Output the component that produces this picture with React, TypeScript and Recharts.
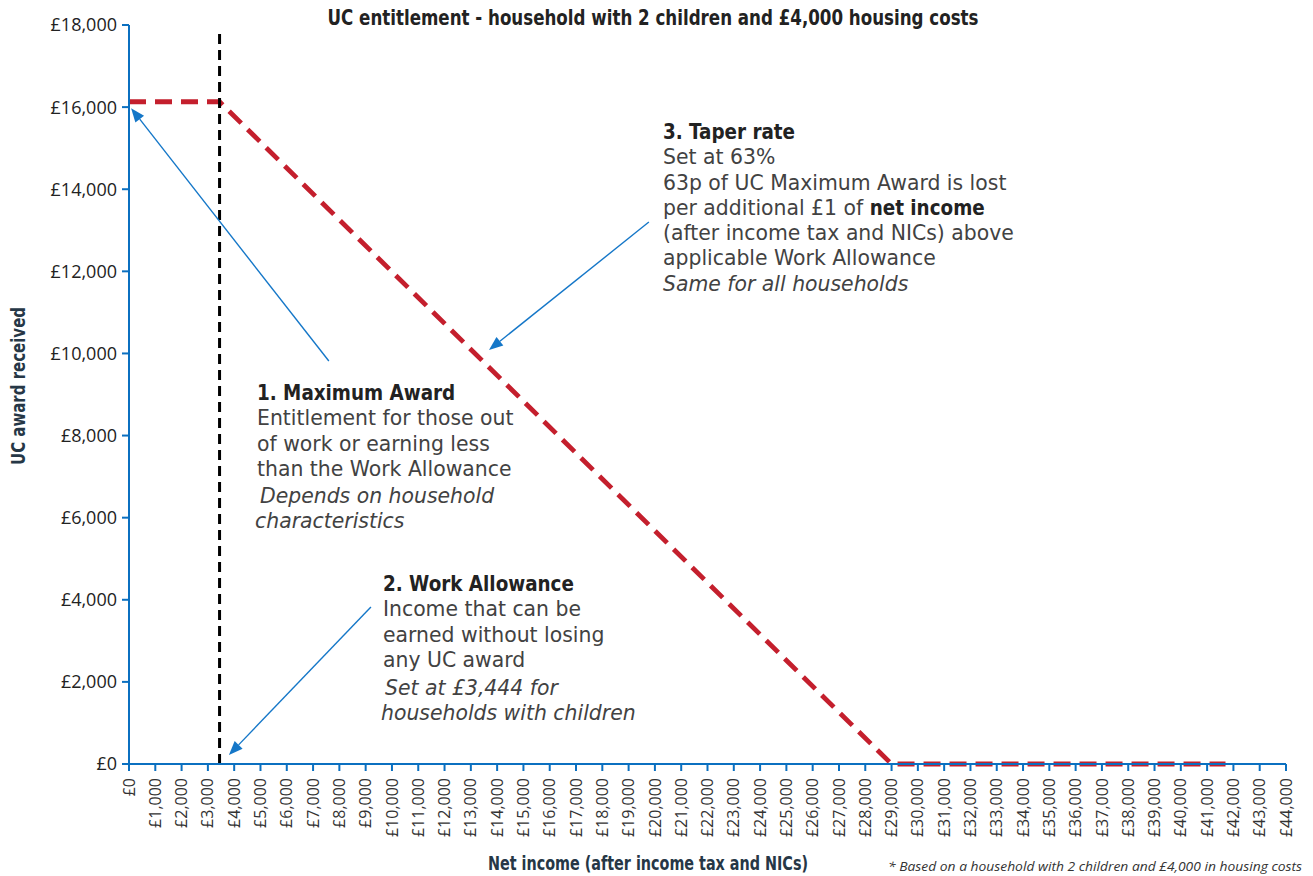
import React from "react";
import { LineChart, Line, XAxis, YAxis, ReferenceLine } from "recharts";

// Net income (£) at each kink of the entitlement line, and the UC award there
const INCOME = [0, 3444, 29000, 41700];
const AWARD = [16130, 16130, 0, 0];

const WORK_ALLOWANCE = 3444;
const WA_LINE_TOP = 17850;

const X_TICKS = Array.from({ length: 45 }, (_, i) => i * 1000);
const Y_TICKS = [0, 2000, 4000, 6000, 8000, 10000, 12000, 14000, 16000, 18000];

// arrows pointing at the chart: [fromX, fromY, toX, toY] in data units
const ARROWS = [
  [7600, 9815, 80, 15975],
  [19770, 13200, 13690, 10085],
  [9200, 3825, 3800, 220],
];

const data = INCOME.map((income, i) => ({ income, award: AWARD[i] }));

const AXIS_BLUE = "#0b70c0";
const ARROW_BLUE = "#1577c8";
const RED = "#c41f2d";
const TEXT = "#333333";
const NAVY = "#263746";
const CONDENSED = "'Liberation Sans Narrow', 'DejaVu Sans Condensed', 'Roboto', sans-serif";

const gbp = (v: number) => `£${v.toLocaleString("en-GB")}`;

const XTick = (props: any) => {
  const { x, payload } = props;
  const y = 778;
  return (
    <text
      x={x}
      y={y}
      transform={`rotate(-90 ${x} ${y})`}
      textAnchor="end"
      dy="0.35em"
      fontSize={16}
      fill={TEXT}
    >
      {gbp(payload.value)}
    </text>
  );
};

const Arrow = (props: any) => {
  const { x1, y1, x2, y2 } = props;
  const len = Math.hypot(x2 - x1, y2 - y1);
  const ux = (x2 - x1) / len;
  const uy = (y2 - y1) / len;
  const head = 14;
  const half = 5.5;
  const bx = x2 - ux * head;
  const by = y2 - uy * head;
  const pts = `${x2},${y2} ${bx - uy * half},${by + ux * half} ${bx + uy * half},${by - ux * half}`;
  return (
    <g>
      <line x1={x1} y1={y1} x2={bx} y2={by} stroke={ARROW_BLUE} strokeWidth={1.4} />
      <polygon points={pts} fill={ARROW_BLUE} />
    </g>
  );
};

const note: React.CSSProperties = {
  position: "absolute",
  fontFamily: "'DejaVu Sans', sans-serif",
  fontSize: 20.4,
  lineHeight: "25.3px",
  color: "#424242",
  whiteSpace: "nowrap",
};
const head: React.CSSProperties = {
  fontFamily: "'DejaVu Sans Condensed', 'DejaVu Sans', sans-serif",
  fontWeight: 700,
  color: "#222",
};
const ital: React.CSSProperties = { fontStyle: "italic" };

export default function App() {
  return (
    <div
      style={{
        position: "absolute",
        left: 0,
        top: 0,
        width: 1313,
        height: 876,
        fontFamily: "'Open Sans', sans-serif",
        background: "#fff",
        overflow: "hidden",
      }}
    >
      <LineChart width={1313} height={876} data={data} margin={{ top: 25, right: 27, bottom: 0, left: 0 }}>
        <XAxis
          type="number"
          dataKey="income"
          domain={[0, 44000]}
          ticks={X_TICKS}
          interval={0}
          height={112}
          axisLine={{ stroke: AXIS_BLUE, strokeWidth: 2 }}
          tickLine={{ stroke: AXIS_BLUE, strokeWidth: 2 }}
          tickSize={7}
          tick={<XTick />}
        />
        <YAxis
          type="number"
          domain={[0, 18000]}
          ticks={Y_TICKS}
          width={129}
          axisLine={{ stroke: AXIS_BLUE, strokeWidth: 2 }}
          tickLine={{ stroke: AXIS_BLUE, strokeWidth: 2 }}
          tickSize={7}
          tickMargin={5}
          tick={{ fontSize: 18, fill: "#222" }}
          tickFormatter={gbp}
        />
        <Line
          type="linear"
          dataKey="award"
          stroke={RED}
          strokeWidth={4.8}
          strokeDasharray="17 9"
          dot={false}
          activeDot={false}
          isAnimationActive={false}
        />
        <ReferenceLine
          segment={[
            { x: WORK_ALLOWANCE, y: 0 },
            { x: WORK_ALLOWANCE, y: WA_LINE_TOP },
          ]}
          stroke="#000"
          strokeWidth={3}
          strokeDasharray="10 6"
        />
        {ARROWS.map(([fx, fy, tx, ty], i) => (
          <ReferenceLine
            key={i}
            segment={[
              { x: fx, y: fy },
              { x: tx, y: ty },
            ]}
            shape={<Arrow />}
          />
        ))}
      </LineChart>

      <svg width={1313} height={876} style={{ position: "absolute", left: 0, top: 0, pointerEvents: "none" }}>
        <text
          x={653}
          y={25}
          textAnchor="middle"
          fontFamily={CONDENSED}
          fontWeight={700}
          fontSize={21}
          fill="#222"
          textLength={651}
          lengthAdjust="spacingAndGlyphs"
        >
          UC entitlement - household with 2 children and £4,000 housing costs
        </text>
        <text
          x={648}
          y={870}
          textAnchor="middle"
          fontFamily={CONDENSED}
          fontWeight={700}
          fontSize={20}
          fill={NAVY}
          textLength={320}
          lengthAdjust="spacingAndGlyphs"
        >
          Net income (after income tax and NICs)
        </text>
        <text
          x={0}
          y={0}
          transform="translate(25 386) rotate(-90)"
          textAnchor="middle"
          fontFamily={CONDENSED}
          fontWeight={700}
          fontSize={20}
          fill={NAVY}
          textLength={158}
          lengthAdjust="spacingAndGlyphs"
        >
          UC award received
        </text>
        <text
          x={1302}
          y={871}
          textAnchor="end"
          fontStyle="italic"
          fontSize={13}
          fill={TEXT}
          textLength={414}
          lengthAdjust="spacingAndGlyphs"
        >
          * Based on a household with 2 children and £4,000 in housing costs
        </text>
      </svg>

      <div style={{ ...note, left: 257, top: 381 }}>
        <div style={head}>1. Maximum Award</div>
        <div>Entitlement for those out</div>
        <div>of work or earning less</div>
        <div>than the Work Allowance</div>
        <div style={{ ...ital, marginLeft: 3, marginTop: 2 }}>Depends on household</div>
        <div style={{ ...ital, marginLeft: -2 }}>characteristics</div>
      </div>

      <div style={{ ...note, left: 383, top: 572 }}>
        <div style={head}>2. Work Allowance</div>
        <div>Income that can be</div>
        <div>earned without losing</div>
        <div>any UC award</div>
        <div style={{ ...ital, marginLeft: 2, marginTop: 3 }}>Set at £3,444 for</div>
        <div style={{ ...ital, marginLeft: -2 }}>households with children</div>
      </div>

      <div style={{ ...note, left: 663, top: 120 }}>
        <div style={head}>3. Taper rate</div>
        <div>Set at 63%</div>
        <div>63p of UC Maximum Award is lost</div>
        <div>
          per additional £1 of <b style={head}>net income</b>
        </div>
        <div>(after income tax and NICs) above</div>
        <div>applicable Work Allowance</div>
        <div style={ital}>Same for all households</div>
      </div>
    </div>
  );
}
